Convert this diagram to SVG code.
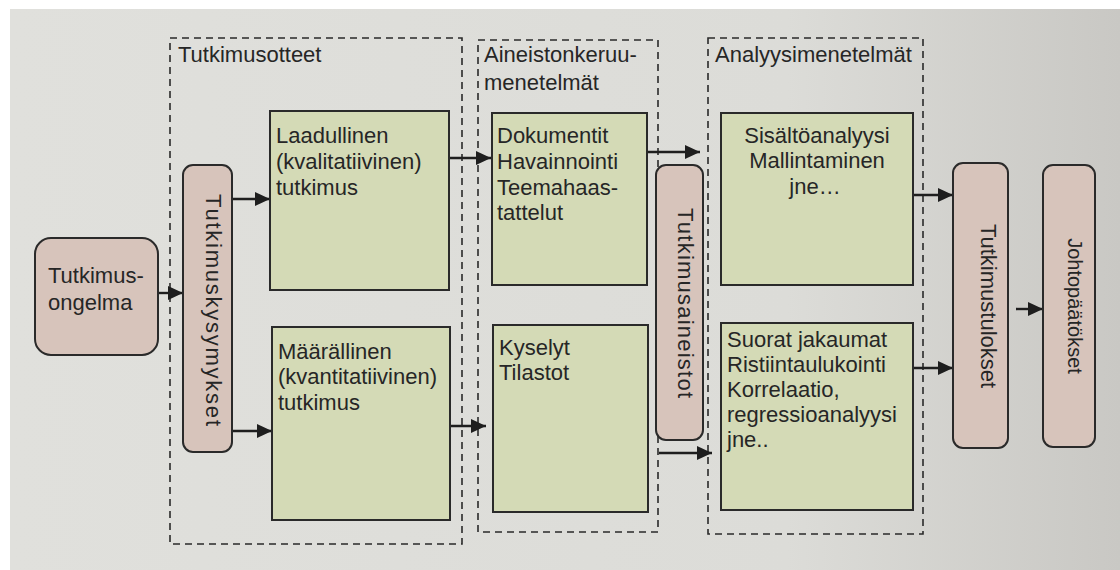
<svg xmlns="http://www.w3.org/2000/svg" width="1120" height="570" viewBox="0 0 1120 570">
<style>
text{font-family:"Liberation Sans",Arial,sans-serif;font-size:22px;fill:#262626}
.dash{fill:none;stroke:#2a2a2a;stroke-width:1.6;stroke-dasharray:7 5}
.green{fill:#d4dab6;stroke:#2a2a2a;stroke-width:2}
.pink{fill:#d7c4bb;stroke:#2a2a2a;stroke-width:2}
.conn{stroke:#1e1e1e;stroke-width:2.4;fill:none}
</style>
<defs>
<linearGradient id="bg" x1="0" y1="0" x2="1" y2="0">
<stop offset="0" stop-color="#e0e0dc"/>
<stop offset="0.7" stop-color="#dcdcd8"/>
<stop offset="1" stop-color="#c9c8c4"/>
</linearGradient>
<marker id="ah" markerUnits="userSpaceOnUse" markerWidth="16" markerHeight="14" refX="15" refY="7" orient="auto">
<path d="M0,0 L15,7 L0,14 Z" fill="#1e1e1e"/>
</marker>
</defs>
<rect x="0" y="0" width="1120" height="570" fill="#ffffff"/>
<rect x="10" y="9" width="1110" height="561" fill="url(#bg)"/>

<g id="group-tutkimusotteet">
<rect class="dash" x="170" y="38" width="292" height="506"/>
<text x="178" y="62">Tutkimusotteet</text>
</g>
<g id="group-aineistonkeruu">
<rect class="dash" x="478" y="40" width="180" height="492"/>
<text x="484" y="62">Aineistonkeruu-</text>
<text x="484" y="90">menetelmät</text>
</g>
<g id="group-analyysi">
<rect class="dash" x="708" y="38" width="215" height="496"/>
<text x="715" y="62">Analyysimenetelmät</text>
</g>

<g id="connectors">
<line class="conn" x1="158" y1="293" x2="183" y2="293" marker-end="url(#ah)"/>
<line class="conn" x1="232" y1="199" x2="270" y2="199" marker-end="url(#ah)"/>
<line class="conn" x1="233" y1="431" x2="272" y2="431" marker-end="url(#ah)"/>
<line class="conn" x1="449" y1="158" x2="491" y2="158" marker-end="url(#ah)"/>
<line class="conn" x1="450" y1="426" x2="486" y2="426" marker-end="url(#ah)"/>
<line class="conn" x1="647" y1="152" x2="700" y2="152" marker-end="url(#ah)"/>
<line class="conn" x1="659" y1="453" x2="712" y2="453" marker-end="url(#ah)"/>
<line class="conn" x1="913" y1="195" x2="953" y2="195" marker-end="url(#ah)"/>
<line class="conn" x1="913" y1="368" x2="953" y2="368" marker-end="url(#ah)"/>
<line class="conn" x1="1016" y1="309" x2="1043" y2="309" marker-end="url(#ah)"/>
</g>

<g id="node-tutkimusongelma">
<rect class="pink" x="35" y="238" width="123" height="117" rx="16"/>
<text x="48" y="283">Tutkimus-</text>
<text x="48" y="310">ongelma</text>
</g>
<g id="node-tutkimuskysymykset">
<rect class="pink" x="183" y="165" width="49" height="287" rx="10"/>
<text transform="translate(206,310) rotate(90)" text-anchor="middle" textLength="232" lengthAdjust="spacing">Tutkimuskysymykset</text>
</g>
<g id="node-laadullinen">
<rect class="green" x="270" y="111" width="179" height="179"/>
<text x="276" y="143">Laadullinen</text>
<text x="276" y="169">(kvalitatiivinen)</text>
<text x="276" y="195">tutkimus</text>
</g>
<g id="node-maarallinen">
<rect class="green" x="272" y="327" width="178" height="193"/>
<text x="278" y="359">Määrällinen</text>
<text x="278" y="384">(kvantitatiivinen)</text>
<text x="278" y="410">tutkimus</text>
</g>
<g id="node-dokumentit">
<rect class="green" x="492" y="113" width="155" height="172"/>
<text x="497" y="143">Dokumentit</text>
<text x="497" y="169">Havainnointi</text>
<text x="497" y="195">Teemahaas-</text>
<text x="497" y="220">tattelut</text>
</g>
<g id="node-kyselyt">
<rect class="green" x="493" y="325" width="155" height="187"/>
<text x="499" y="355">Kyselyt</text>
<text x="499" y="380">Tilastot</text>
</g>
<g id="node-tutkimusaineistot">
<rect class="pink" x="656" y="165" width="47" height="275" rx="10"/>
<text transform="translate(678,303) rotate(90)" text-anchor="middle" textLength="190" lengthAdjust="spacing">Tutkimusaineistot</text>
</g>
<g id="node-sisaltoanalyysi">
<rect class="green" x="721" y="113" width="192" height="172"/>
<text x="817" y="143" text-anchor="middle">Sisältöanalyysi</text>
<text x="817" y="168" text-anchor="middle">Mallintaminen</text>
<text x="815" y="194" text-anchor="middle">jne…</text>
</g>
<g id="node-suorat">
<rect class="green" x="721" y="323" width="192" height="187"/>
<text x="727" y="347">Suorat jakaumat</text>
<text x="727" y="372">Ristiintaulukointi</text>
<text x="727" y="397">Korrelaatio,</text>
<text x="727" y="422">regressioanalyysi</text>
<text x="727" y="447">jne..</text>
</g>
<g id="node-tutkimustulokset">
<rect class="pink" x="953" y="163" width="55" height="285" rx="10"/>
<text transform="translate(981,306) rotate(90)" text-anchor="middle">Tutkimustulokset</text>
</g>
<g id="node-johtopaatokset">
<rect class="pink" x="1043" y="165" width="52" height="282" rx="10"/>
<text transform="translate(1068,306) rotate(90)" text-anchor="middle" style="font-size:20px">Johtopäätökset</text>
</g>
</svg>
